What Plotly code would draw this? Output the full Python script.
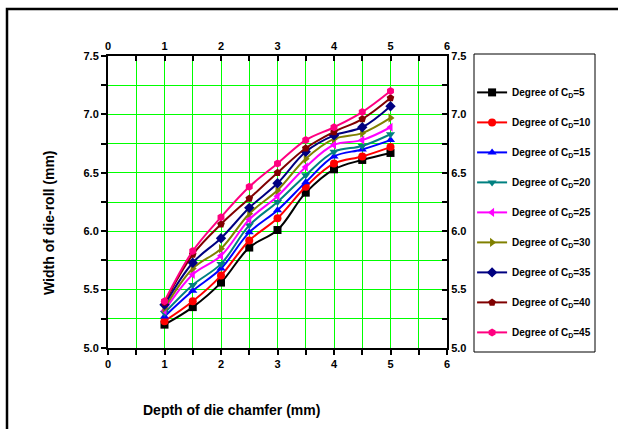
import plotly.graph_objects as go

depth = [1, 1.5, 2, 2.5, 3, 3.5, 4, 4.5, 5]
cd5 = [5.20, 5.35, 5.56, 5.86, 6.01, 6.33, 6.53, 6.61, 6.67]
cd10 = [5.23, 5.40, 5.62, 5.92, 6.11, 6.38, 6.58, 6.64, 6.72]
cd15 = [5.27, 5.49, 5.68, 5.99, 6.18, 6.42, 6.64, 6.70, 6.78]
cd20 = [5.30, 5.54, 5.72, 6.05, 6.25, 6.48, 6.68, 6.73, 6.83]
cd25 = [5.32, 5.63, 5.79, 6.10, 6.30, 6.55, 6.74, 6.78, 6.89]
cd30 = [5.34, 5.68, 5.85, 6.15, 6.35, 6.62, 6.79, 6.84, 6.97]
cd35 = [5.37, 5.73, 5.94, 6.20, 6.41, 6.68, 6.82, 6.89, 7.07]
cd40 = [5.39, 5.80, 6.06, 6.28, 6.50, 6.71, 6.85, 6.96, 7.14]
cd45 = [5.40, 5.83, 6.12, 6.38, 6.58, 6.78, 6.89, 7.02, 7.20]

series = [
    ("5", cd5, "#000000", "square"),
    ("10", cd10, "#ff0000", "circle"),
    ("15", cd15, "#0000ff", "triangle-up"),
    ("20", cd20, "#008080", "triangle-down"),
    ("25", cd25, "#ff00ff", "triangle-left"),
    ("30", cd30, "#808000", "triangle-right"),
    ("35", cd35, "#000080", "diamond"),
    ("40", cd40, "#800000", "pentagon"),
    ("45", cd45, "#ff0080", "hexagon"),
]

FONT = "Arial, Liberation Sans, sans-serif"
fig = go.Figure()
for i, (lab, ys, col, sym) in enumerate(series):
    fig.add_trace(go.Scatter(
        x=depth, y=ys, mode="lines+markers",
        name=f"Degree of C<sub>D</sub>={lab}",
        legendgroup=f"g{i}",
        line=dict(color=col, width=2, shape="spline", smoothing=1),
        marker=dict(symbol=sym, size=8, color=col),
    ))
# invisible trace to activate the top/right axes
fig.add_trace(go.Scatter(x=depth, y=cd5, xaxis="x2", yaxis="y2", mode="markers",
                         marker=dict(opacity=0), showlegend=False, hoverinfo="skip"))

grid = "#00ff00"
tickfont = dict(family=FONT, size=11, color="black", weight="bold")
common_x = dict(range=[0, 6], dtick=1, tick0=0, showline=True, linecolor="black",
                linewidth=2, ticklen=5, tickwidth=1.5, tickcolor="black",
                tickfont=tickfont, zeroline=False)
common_y = dict(range=[5.0, 7.5], dtick=0.5, tick0=5.0, tickformat=".1f",
                showline=True, linecolor="black", linewidth=2, ticklen=5,
                tickwidth=1.5, tickcolor="black", tickfont=tickfont, zeroline=False)

fig.update_layout(
    width=618, height=429,
    margin=dict(l=108, r=171, t=56, b=81),
    paper_bgcolor="white", plot_bgcolor="white",
    xaxis=dict(**common_x, ticks="outside", showgrid=True, gridcolor=grid, gridwidth=1,
               minor=dict(dtick=0.5, ticks="outside", ticklen=5, tickcolor="black",
                          showgrid=True, gridcolor=grid, gridwidth=1)),
    yaxis=dict(**common_y, ticks="outside", showgrid=True, gridcolor=grid, gridwidth=1,
               minor=dict(dtick=0.25, ticks="outside", ticklen=5, tickcolor="black",
                          showgrid=True, gridcolor=grid, gridwidth=1)),
    xaxis2=dict(**common_x, overlaying="x", side="top", anchor="y", ticks="inside",
                showgrid=False,
                minor=dict(dtick=0.5, ticks="inside", ticklen=5, tickcolor="black",
                           showgrid=False)),
    yaxis2=dict(**common_y, overlaying="y", side="right", anchor="x", ticks="inside",
                showgrid=False,
                minor=dict(dtick=0.25, ticks="inside", ticklen=5, tickcolor="black",
                           showgrid=False)),
    showlegend=True,
    legend=dict(x=1.074, y=0.925, xanchor="left", yanchor="top",
                font=dict(family=FONT, size=10, color="black", weight="bold"),
                tracegroupgap=11, itemwidth=30, bgcolor="rgba(0,0,0,0)",
                borderwidth=0),
    annotations=[
        dict(text="<b>Depth of die chamfer (mm)</b>", xref="paper", yref="paper",
             x=(231 - 108) / 339, y=(348 - 410) / 292, xanchor="center", yanchor="middle",
             showarrow=False, font=dict(family=FONT, size=14, color="black")),
        dict(text="<b>Width of die-roll (mm)</b>", xref="paper", yref="paper",
             x=(49 - 108) / 339, y=(348 - 222) / 292, xanchor="center", yanchor="middle",
             textangle=-90, showarrow=False, font=dict(family=FONT, size=14, color="black")),
    ],
    shapes=[
        dict(type="rect", xref="paper", yref="paper",
             x0=(474 - 108) / 339, x1=(595 - 108) / 339,
             y0=(348 - 352) / 292, y1=(348 - 54) / 292,
             line=dict(color="black", width=1)),
        dict(type="rect", xref="paper", yref="paper",
             x0=(7 - 108) / 339, x1=(640 - 108) / 339,
             y0=(348 - 450) / 292, y1=(348 - 9) / 292,
             line=dict(color="black", width=2.5)),
    ],
)
fig.write_html("out.html", config={"displayModeBar": False},
               post_script="document.body.style.margin='0';")
